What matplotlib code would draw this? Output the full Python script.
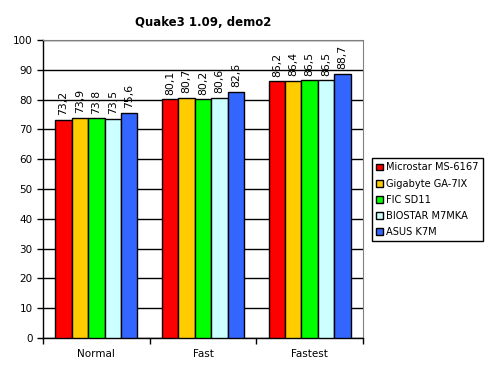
import matplotlib
matplotlib.use("Agg")
import matplotlib.pyplot as plt
import numpy as np

categories = ["Normal", "Fast", "Fastest"]
series_names = ["Microstar MS-6167", "Gigabyte GA-7IX", "FIC SD11", "BIOSTAR M7MKA", "ASUS K7M"]
values = [
    [73.2, 80.1, 86.2],
    [73.9, 80.7, 86.4],
    [73.8, 80.2, 86.5],
    [73.5, 80.6, 86.5],
    [75.6, 82.6, 88.7],
]
colors = ["#ff0000", "#ffcc00", "#00ff00", "#ccffff", "#3366ff"]
title = "Quake3 1.09, demo2"

plt.rcParams['font.family'] = ['DejaVu Sans']
fig = plt.figure(figsize=(4.9, 3.77), dpi=100)
ax = fig.add_axes([43/490, 39/377, 320/490, 298/377])

n = len(series_names)
bw = 0.77 / n
x = np.arange(len(categories))
for i, (name, vals, c) in enumerate(zip(series_names, values, colors)):
    pos = x - 0.385 + bw * (i + 0.5)
    ax.bar(pos, vals, width=bw, color=c, edgecolor="black", linewidth=1.0, label=name, zorder=3)
    for p, v in zip(pos, vals):
        ax.text(p, v + 1.5, f"{v:.1f}".replace(".", ","), rotation=90, ha="center", va="bottom",
                fontsize=7.8, zorder=4)

ax.set_xlim(-0.5, len(categories) - 0.5)
ax.set_ylim(0, 100)
ax.set_yticks(range(0, 101, 10))
ax.yaxis.grid(True, color="black", linewidth=1.0, zorder=0)
ax.set_xticks(x)
ax.set_xticklabels(categories, fontsize=7.5)
ax.tick_params(axis="x", length=0, pad=8)
ax.set_xticks(np.arange(-0.5, len(categories), 1), minor=True)
ax.tick_params(axis="x", which="minor", length=4, width=1, direction="out")
ax.tick_params(axis="y", length=4, width=1, direction="out", labelsize=7.5)
for s in ["top", "right"]:
    ax.spines[s].set_color("#808080")
for s in ["left", "bottom"]:
    ax.spines[s].set_color("black")
    ax.spines[s].set_linewidth(1.0)

fig.suptitle(title, fontsize=8.5, fontweight="bold", x=(43+363)/2/490, y=1 - 22/377, va="center")

leg = ax.legend(loc="upper left", bbox_to_anchor=(372/490, 1 - 158/377), bbox_transform=fig.transFigure,
                fontsize=7.1, frameon=True, fancybox=False, edgecolor="black", framealpha=1,
                handlelength=0.7, handleheight=0.7, handletextpad=0.3, borderpad=0.45, labelspacing=0.62,
                borderaxespad=0)
leg.get_frame().set_linewidth(1.0)

fig.savefig("out.png", dpi=100)
